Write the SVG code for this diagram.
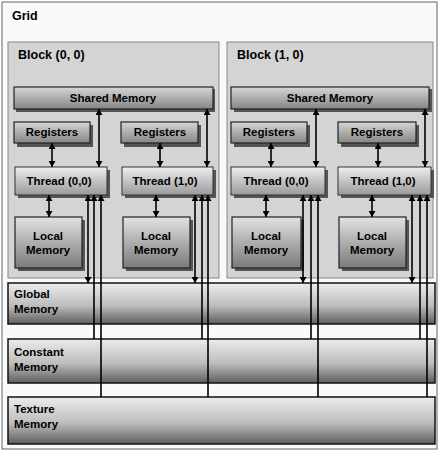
<svg xmlns="http://www.w3.org/2000/svg" width="439" height="452" viewBox="0 0 439 452">
<defs>
<linearGradient id="gBar" x1="0" y1="0" x2="0" y2="1">
<stop offset="0" stop-color="#ececec"/><stop offset="0.55" stop-color="#bdbdbd"/><stop offset="1" stop-color="#5e5e5e"/>
</linearGradient>
<linearGradient id="gBox" x1="0" y1="0" x2="0" y2="1">
<stop offset="0" stop-color="#d6d6d6"/><stop offset="1" stop-color="#858585"/>
</linearGradient>
<linearGradient id="gThread" x1="0" y1="0" x2="0" y2="1">
<stop offset="0" stop-color="#eeeeee"/><stop offset="1" stop-color="#9a9a9a"/>
</linearGradient>
<linearGradient id="gLocal" x1="0" y1="0" x2="0" y2="1">
<stop offset="0" stop-color="#e2e2e2"/><stop offset="1" stop-color="#7a7a7a"/>
</linearGradient>
<marker id="ah" markerWidth="6" markerHeight="7" refX="6" refY="3.5" orient="auto-start-reverse" markerUnits="userSpaceOnUse">
<path d="M0,0 L6,3.5 L0,7 z" fill="#000"/>
</marker>
<style>
.t{font-family:"Liberation Sans",Arial,sans-serif;font-weight:bold;font-size:11.5px;fill:#000}
.L{font-size:12.5px}
.c{text-anchor:middle}
.blk{fill:#d4d4d4;stroke:#888;stroke-width:1}
.bar{fill:url(#gBar);stroke:#111;stroke-width:1.5}
.box{fill:url(#gBox);stroke:#222;stroke-width:1.2}
.thr{fill:url(#gThread);stroke:#333;stroke-width:1}
.loc{fill:url(#gLocal);stroke:#222;stroke-width:1.2}
.sh{fill:#555}
.a2{stroke:#000;stroke-width:1.6;fill:none;marker-start:url(#ah);marker-end:url(#ah)}
.a1{stroke:#000;stroke-width:1.6;fill:none;marker-end:url(#ah)}
</style>
</defs>
<rect x="0" y="0" width="439" height="452" fill="#fff"/>
<g id="grid">
<rect x="2" y="2" width="435" height="447" fill="#fafafa" stroke="#666" stroke-width="1"/>
<text class="t L" x="12" y="20">Grid</text>
</g>
<g id="block00">
<rect class="blk" x="8" y="42" width="211" height="236"/>
<text class="t L" x="18" y="59">Block (0, 0)</text>
</g>
<g id="block10">
<rect class="blk" x="227" y="42" width="206" height="236"/>
<text class="t L" x="237" y="59">Block (1, 0)</text>
</g>
<g id="shared0">
<rect class="sh" x="16" y="89" width="199" height="23"/>
<rect class="box" x="14" y="87" width="199" height="22"/>
<text class="t c" x="113" y="102">Shared Memory</text>
</g>
<g id="shared1">
<rect class="sh" x="234" y="89" width="198" height="23"/>
<rect class="box" x="231" y="87" width="198" height="22"/>
<text class="t c" x="330" y="102">Shared Memory</text>
</g>
<g id="reg00">
<rect class="sh" x="17" y="125" width="76" height="22"/>
<rect class="box" x="14" y="122" width="76" height="21"/>
<text class="t c" x="52" y="136">Registers</text>
</g>
<g id="reg01">
<rect class="sh" x="124" y="125" width="77" height="22"/>
<rect class="box" x="121" y="122" width="77" height="21"/>
<text class="t c" x="160" y="136">Registers</text>
</g>
<g id="reg10">
<rect class="sh" x="234" y="125" width="76" height="22"/>
<rect class="box" x="231" y="122" width="76" height="21"/>
<text class="t c" x="269" y="136">Registers</text>
</g>
<g id="reg11">
<rect class="sh" x="341" y="125" width="78" height="22"/>
<rect class="box" x="338" y="122" width="78" height="21"/>
<text class="t c" x="377" y="136">Registers</text>
</g>
<g id="thread00">
<rect class="sh" x="18" y="170" width="92" height="28"/>
<rect class="thr" x="15" y="167" width="92" height="28"/>
<text class="t c" x="59" y="185">Thread (0,0)</text>
</g>
<g id="thread01">
<rect class="sh" x="125" y="170" width="91" height="28"/>
<rect class="thr" x="122" y="167" width="91" height="28"/>
<text class="t c" x="165" y="185">Thread (1,0)</text>
</g>
<g id="thread10">
<rect class="sh" x="234" y="170" width="94" height="28"/>
<rect class="thr" x="231" y="167" width="94" height="28"/>
<text class="t c" x="276" y="185">Thread (0,0)</text>
</g>
<g id="thread11">
<rect class="sh" x="341" y="170" width="93" height="28"/>
<rect class="thr" x="338" y="167" width="93" height="28"/>
<text class="t c" x="383" y="185">Thread (1,0)</text>
</g>
<g id="local00">
<rect class="sh" x="18" y="220" width="67" height="51"/>
<rect class="loc" x="15" y="217" width="67" height="51"/>
<text class="t c" x="48" y="240">Local</text>
<text class="t c" x="48" y="254">Memory</text>
</g>
<g id="local01">
<rect class="sh" x="126" y="220" width="67" height="51"/>
<rect class="loc" x="123" y="217" width="67" height="51"/>
<text class="t c" x="156" y="240">Local</text>
<text class="t c" x="156" y="254">Memory</text>
</g>
<g id="local10">
<rect class="sh" x="235" y="220" width="69" height="51"/>
<rect class="loc" x="232" y="217" width="69" height="51"/>
<text class="t c" x="266" y="240">Local</text>
<text class="t c" x="266" y="254">Memory</text>
</g>
<g id="local11">
<rect class="sh" x="342" y="220" width="67" height="51"/>
<rect class="loc" x="339" y="217" width="67" height="51"/>
<text class="t c" x="372" y="240">Local</text>
<text class="t c" x="372" y="254">Memory</text>
</g>
<g id="global">
<rect class="bar" x="8" y="283" width="427" height="41"/>
<text class="t" x="14" y="298">Global</text>
<text class="t" x="14" y="313">Memory</text>
</g>
<g id="constant">
<rect class="bar" x="8" y="339" width="427" height="44"/>
<text class="t" x="14" y="356">Constant</text>
<text class="t" x="14" y="371">Memory</text>
</g>
<g id="texture">
<rect class="bar" x="8" y="397" width="427" height="47"/>
<text class="t" x="14" y="413">Texture</text>
<text class="t" x="14" y="428">Memory</text>
</g>
<g id="connectors">
<line class="a2" x1="52" y1="143" x2="52" y2="167"/>
<line class="a2" x1="160" y1="143" x2="160" y2="167"/>
<line class="a2" x1="271" y1="143" x2="271" y2="167"/>
<line class="a2" x1="378" y1="143" x2="378" y2="167"/>
<line class="a2" x1="49" y1="195" x2="49" y2="217"/>
<line class="a2" x1="156" y1="195" x2="156" y2="217"/>
<line class="a2" x1="266" y1="195" x2="266" y2="217"/>
<line class="a2" x1="372" y1="195" x2="372" y2="217"/>
<line class="a2" x1="99" y1="109" x2="99" y2="167"/>
<line class="a2" x1="207" y1="109" x2="207" y2="167"/>
<line class="a2" x1="316" y1="109" x2="316" y2="167"/>
<line class="a2" x1="425" y1="109" x2="425" y2="167"/>
<line class="a2" x1="88" y1="195" x2="88" y2="283"/>
<line class="a1" x1="94" y1="339" x2="94" y2="195"/>
<line class="a1" x1="101" y1="397" x2="101" y2="195"/>
<line class="a2" x1="195" y1="195" x2="195" y2="283"/>
<line class="a1" x1="202" y1="339" x2="202" y2="195"/>
<line class="a1" x1="208" y1="397" x2="208" y2="195"/>
<line class="a2" x1="303" y1="195" x2="303" y2="283"/>
<line class="a1" x1="311" y1="339" x2="311" y2="195"/>
<line class="a1" x1="318" y1="397" x2="318" y2="195"/>
<line class="a2" x1="412" y1="195" x2="412" y2="283"/>
<line class="a1" x1="420" y1="339" x2="420" y2="195"/>
<line class="a1" x1="427" y1="397" x2="427" y2="195"/>
</g>
</svg>
